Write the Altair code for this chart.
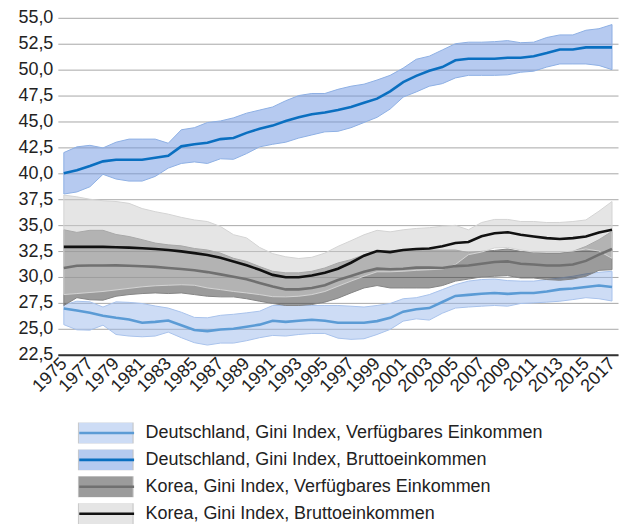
import altair as alt
import pandas as pd

years = list(range(1975, 2018))

series_names = [
    "Deutschland, Gini Index, Verfügbares Einkommen",
    "Deutschland, Gini Index, Bruttoeinkommen",
    "Korea, Gini Index, Verfügbares Einkommen",
    "Korea, Gini Index, Bruttoeinkommen",
]
series_codes = ["dv", "db", "kv", "kb"]

# Deutschland, verfügbares Einkommen
dv_mid = [26.96, 26.76, 26.54, 26.25, 26.06, 25.9, 25.58, 25.67, 25.8, 25.35,
          24.88, 24.78, 24.94, 25.0, 25.2, 25.4, 25.77, 25.67, 25.77, 25.87,
          25.77, 25.58, 25.58, 25.58, 25.74, 26.06, 26.65, 26.88, 27.0, 27.58,
          28.17, 28.27, 28.38, 28.46, 28.37, 28.46, 28.46, 28.6, 28.8, 28.88,
          29.04, 29.17, 29.04]
dv_hi = [27.3, 27.66, 27.6, 27.1, 27.6, 27.55, 27.44, 27.2, 27.0, 26.6,
         26.1, 26.06, 26.3, 26.4, 26.54, 26.7, 27.25, 27.25, 27.25, 27.25,
         27.25, 27.25, 27.18, 27.1, 27.25, 27.44, 27.9, 28.0, 28.3, 28.78,
         29.26, 29.6, 29.75, 29.8, 29.65, 29.6, 29.6, 29.75, 29.9, 30.07,
         30.3, 30.45, 30.55]
dv_lo = [25.4, 24.9, 24.87, 25.35, 24.45, 24.3, 24.23, 24.3, 24.68, 24.14,
         23.66, 23.43, 23.62, 23.62, 23.85, 24.14, 24.36, 24.3, 24.45, 24.55,
         24.55, 24.1, 23.98, 24.04, 24.45, 24.94, 25.74, 25.96, 25.84, 26.5,
         27.0, 27.1, 27.18, 27.25, 27.18, 27.44, 27.5, 27.57, 27.66, 27.82,
         28.0, 27.9, 27.68]

# Deutschland, Bruttoeinkommen
db_mid = [40.0, 40.3, 40.7, 41.15, 41.3, 41.3, 41.3, 41.5, 41.7, 42.6,
          42.8, 42.95, 43.3, 43.4, 43.9, 44.3, 44.6, 45.05, 45.4, 45.7,
          45.87, 46.1, 46.4, 46.8, 47.2, 47.9, 48.8, 49.4, 49.9, 50.25,
          50.9, 51.05, 51.05, 51.05, 51.15, 51.15, 51.3, 51.6, 51.95, 51.95,
          52.15, 52.15, 52.15]
db_hi = [42.0, 42.55, 42.7, 42.45, 43.0, 43.3, 43.3, 43.3, 42.9, 44.2,
         44.4, 44.9, 45.05, 45.35, 45.8, 46.1, 46.4, 47.0, 47.5, 47.7,
         47.7, 48.1, 48.4, 48.6, 49.0, 49.45, 50.15, 51.0, 51.3, 51.9,
         52.5, 52.65, 52.65, 52.7, 52.8, 52.6, 52.65, 53.1, 53.35, 53.35,
         53.8, 53.95, 54.35]
db_lo = [38.0, 38.2, 38.7, 39.9, 39.45, 39.25, 39.25, 39.7, 40.5, 40.95,
         41.1, 40.95, 41.4, 41.35, 41.9, 42.55, 42.8, 43.0, 43.4, 43.7,
         44.0, 44.05, 44.4, 44.9, 45.4, 46.2, 47.35, 47.85, 48.4, 48.65,
         49.2, 49.45, 49.45, 49.45, 49.5, 49.75, 49.85, 50.25, 50.55, 50.55,
         50.55, 50.4, 50.0]

# Korea, verfügbares Einkommen
kv_mid = [30.87, 31.08, 31.1, 31.1, 31.12, 31.08, 31.03, 30.97, 30.87, 30.77,
          30.64, 30.47, 30.25, 30.02, 29.78, 29.42, 29.08, 28.8, 28.8, 28.94,
          29.2, 29.7, 30.1, 30.5, 30.8, 30.75, 30.8, 30.9, 30.9, 30.87,
          31.05, 31.1, 31.27, 31.45, 31.5, 31.27, 31.2, 31.1, 31.1, 31.2,
          31.55, 32.15, 32.7]
kv_hi = [34.55, 34.3, 34.5, 34.5, 34.1, 33.9, 33.6, 33.27, 33.1, 33.0,
         32.75, 32.6, 32.3, 31.8, 31.5, 31.0, 30.55, 30.4, 30.4, 30.55,
         30.87, 31.35, 31.67, 32.15, 32.5, 32.5, 32.6, 32.6, 32.6, 32.6,
         32.6, 32.35, 32.47, 32.56, 32.7, 32.47, 32.37, 32.3, 32.3, 32.47,
         32.95, 33.6, 34.4]
kv_lo = [27.25, 28.0, 27.8, 27.76, 28.14, 28.3, 28.4, 28.46, 28.4, 28.46,
         28.3, 28.14, 28.08, 28.08, 27.9, 27.66, 27.44, 27.25, 27.25, 27.34,
         27.57, 27.95, 28.46, 28.94, 29.17, 28.94, 28.94, 28.94, 28.94, 29.17,
         29.6, 29.8, 30.0, 30.07, 30.13, 29.9, 29.9, 29.75, 29.68, 29.8,
         30.07, 30.64, 30.7]

# Korea, Bruttoeinkommen
kb_mid = [32.9, 32.9, 32.9, 32.9, 32.87, 32.83, 32.77, 32.7, 32.6, 32.47,
          32.3, 32.12, 31.85, 31.5, 31.12, 30.7, 30.2, 29.97, 29.97, 30.15,
          30.4, 30.8, 31.37, 32.05, 32.5, 32.4, 32.6, 32.7, 32.75, 32.97,
          33.27, 33.37, 33.93, 34.22, 34.32, 34.07, 33.9, 33.75, 33.67, 33.75,
          33.9, 34.3, 34.55]
kb_hi = [37.9, 37.73, 37.5, 37.35, 37.28, 37.1, 36.6, 36.3, 36.06, 35.75,
         35.5, 35.35, 34.87, 34.08, 33.77, 32.85, 32.25, 31.95, 31.78, 31.9,
         32.3, 32.95, 33.5, 34.07, 34.5, 34.35, 34.55, 34.68, 34.75, 34.9,
         34.98, 34.55, 35.25, 35.55, 35.55, 35.35, 35.35, 35.25, 35.26, 35.35,
         35.5, 36.35, 37.28]
kb_lo = [28.3, 28.4, 28.5, 28.6, 28.75, 28.9, 29.05, 29.15, 29.2, 29.25,
         29.2, 28.94, 28.78, 28.6, 28.46, 28.3, 28.1, 28.08, 28.14, 28.3,
         28.6, 29.1, 29.6, 30.07, 30.5, 30.5, 30.55, 30.64, 30.7, 30.75,
         31.2, 32.15, 32.4, 32.8, 32.85, 32.6, 32.4, 32.4, 32.4, 32.5,
         32.7, 32.5, 31.8]

y_ticks = [22.5, 25.0, 27.5, 30.0, 32.5, 35.0, 37.5, 40.0, 42.5, 45.0, 47.5, 50.0, 52.5, 55.0]
x_ticks = list(range(1975, 2018, 2))

band_fill = ["#9bb9eb", "#6d95e1", "#383838", "#cbcbcb"]
band_edge = ["#a9c3ec", "#8eb0e4", "#858585", "#d4d4d4"]
line_col = ["#5b9bd5", "#0a6fc0", "#707070", "#111111"]

mids = [dv_mid, db_mid, kv_mid, kb_mid]
his = [dv_hi, db_hi, kv_hi, kb_hi]
los = [dv_lo, db_lo, kv_lo, kb_lo]

rows = []
for code, name, mid, lo, hi in zip(series_codes, series_names, mids, los, his):
    for yr, m, l, h in zip(years, mid, lo, hi):
        rows.append({"year": yr, "name": name, "code": code, "mid": m, "lo": l, "hi": h})
df = pd.DataFrame(rows)

FONT = "Liberation Sans"

x_enc = alt.X(
    "year:Q",
    title=None,
    scale=alt.Scale(domain=[1975, 2017], padding=6, nice=False, zero=False),
    axis=alt.Axis(values=x_ticks, format="d", labelAngle=315, labelAlign="right",
                  labelBaseline="middle", labelPadding=6, ticks=False, grid=False,
                  domainColor="#333333", domainWidth=2, labelOverlap=False,
                  labelFlush=False, labelFont=FONT, labelFontSize=18,
                  labelColor="#222222"),
)


def y_enc(field):
    return alt.Y(
        field,
        title=None,
        scale=alt.Scale(domain=[22.5, 55], nice=False, zero=False),
        axis=alt.Axis(values=y_ticks, labelExpr="replace(format(datum.value, '.1f'), '.', ',')",
                      domain=False, ticks=False, grid=True, gridColor="#a8a8a8",
                      gridWidth=1, labelPadding=5, labelFont=FONT, labelFontSize=18,
                      labelColor="#222222"),
    )


legend_common = dict(orient="none", legendX=20, legendY=406, padding=0, clipHeight=21,
                     rowPadding=6, symbolSize=3025, labelOffset=12, labelLimit=0,
                     labelFontSize=18, labelFont=FONT, labelColor="#222222", title=None)

fill_enc = alt.Fill(
    "name:N",
    scale=alt.Scale(domain=series_names, range=band_fill),
    legend=alt.Legend(symbolType="M-1,-0.4H1V0.4H-1Z", symbolOpacity=0.5,
                      symbolStrokeColor="#888888", symbolStrokeWidth=1, **legend_common),
)
stroke_enc = alt.Stroke(
    "code:N",
    scale=alt.Scale(domain=series_codes, range=line_col),
    legend=alt.Legend(symbolType="stroke", symbolStrokeWidth=2.6, labelExpr="''",
                      **legend_common),
)

base = alt.Chart(df)
areas = [
    base.transform_filter(alt.datum.code == c)
    .mark_area(fillOpacity=0.5, stroke=e, strokeWidth=1)
    .encode(x=x_enc, y=y_enc("lo:Q"), y2="hi:Q", fill=fill_enc)
    for c, e in zip(series_codes, band_edge)
]
lines = [
    base.transform_filter(alt.datum.code == c)
    .mark_line(strokeWidth=2.6)
    .encode(x=x_enc, y=y_enc("mid:Q"), stroke=stroke_enc)
    for c in series_codes
]

chart = (
    alt.layer(*areas, *lines)
    .properties(width=562, height=338, autosize="none", background="white",
                padding={"left": 50, "top": 9, "right": 1, "bottom": 170})
    .configure_view(strokeWidth=0)
)

chart.save("out.html", embed_options={"renderer": "svg", "actions": False})
